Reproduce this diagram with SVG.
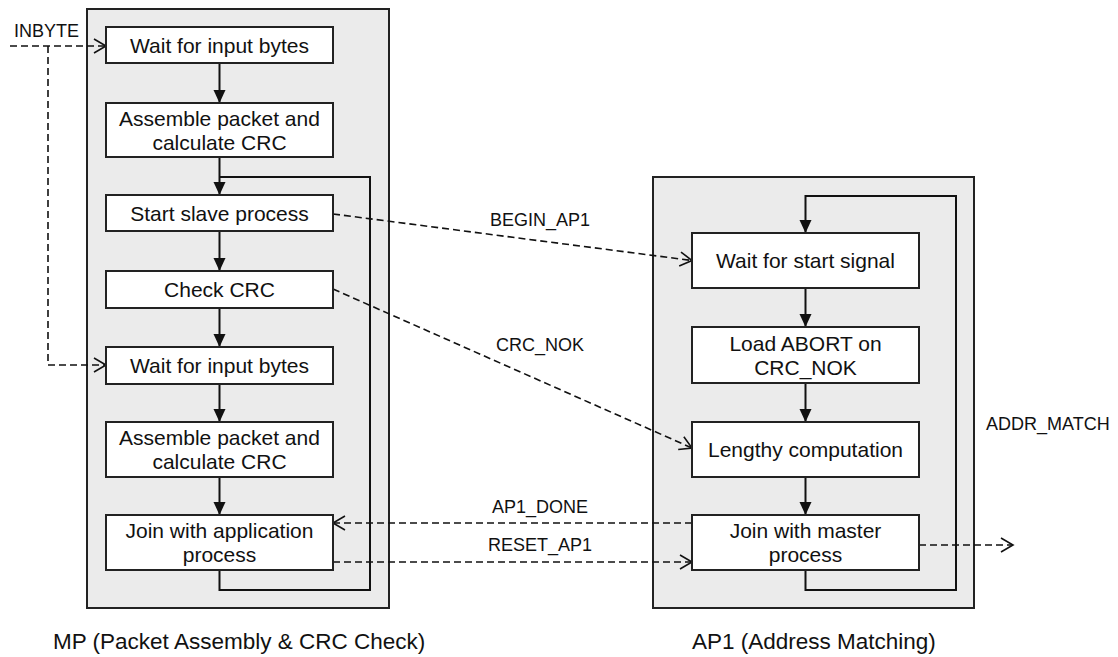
<svg xmlns="http://www.w3.org/2000/svg" width="1118" height="657" viewBox="0 0 1118 657">
  <style>
    .proc { fill: #ebebeb; stroke: #222; stroke-width: 2; }
    .box { fill: #fff; stroke: #222; stroke-width: 2; }
    .flow { fill: none; stroke: #111; stroke-width: 2; }
    .sig { fill: none; stroke: #111; stroke-width: 1.6; stroke-dasharray: 7 4; }
    text { font-family: "Liberation Sans", Arial, sans-serif; fill: #111; }
    .t { font-size: 21px; text-anchor: middle; }
    .lbl { font-size: 18px; }
    .mid { text-anchor: middle; }
    .cap { font-size: 22.5px; }
  </style>
  <defs>
    <marker id="solid" markerUnits="userSpaceOnUse" markerWidth="13" markerHeight="12" refX="13" refY="6" orient="auto" overflow="visible">
      <path d="M0,0 L13,6 L0,12 z" fill="#111"/>
    </marker>
    <marker id="open" markerUnits="userSpaceOnUse" markerWidth="12" markerHeight="14" refX="12" refY="7" orient="auto" overflow="visible">
      <path d="M0,0 L12,7 L0,14" fill="none" stroke="#111" stroke-width="1.6"/>
    </marker>
  </defs>

  <!-- process containers -->
  <g id="mp">
    <rect class="proc" x="87" y="9" width="302" height="599"/>
    <text class="cap" x="53" y="649">MP (Packet Assembly &amp; CRC Check)</text>
  </g>
  <g id="ap1">
    <rect class="proc" x="653" y="177" width="321" height="431"/>
    <text class="cap" x="692" y="649">AP1 (Address Matching)</text>
  </g>

  <!-- control flow and signals -->
  <g id="connectors">
    <!-- MP flow -->
    <line class="flow" x1="219.5" y1="63" x2="219.5" y2="103" marker-end="url(#solid)"/>
    <line class="flow" x1="219.5" y1="157" x2="219.5" y2="195" marker-end="url(#solid)"/>
    <line class="flow" x1="219.5" y1="231" x2="219.5" y2="271" marker-end="url(#solid)"/>
    <line class="flow" x1="219.5" y1="308" x2="219.5" y2="347" marker-end="url(#solid)"/>
    <line class="flow" x1="219.5" y1="384" x2="219.5" y2="422" marker-end="url(#solid)"/>
    <line class="flow" x1="219.5" y1="477" x2="219.5" y2="515" marker-end="url(#solid)"/>
    <polyline class="flow" points="219.5,570 219.5,590 370,590 370,177 219.5,177"/>
    <!-- AP1 flow -->
    <polyline class="flow" points="805.5,570 805.5,590 956,590 956,196 805.5,196 805.5,233" marker-end="url(#solid)"/>
    <line class="flow" x1="805.5" y1="288" x2="805.5" y2="327" marker-end="url(#solid)"/>
    <line class="flow" x1="805.5" y1="383" x2="805.5" y2="422" marker-end="url(#solid)"/>
    <line class="flow" x1="805.5" y1="477" x2="805.5" y2="515" marker-end="url(#solid)"/>

    <!-- INBYTE -->
    <line class="sig" x1="10" y1="46" x2="106" y2="46" marker-end="url(#open)"/>
    <polyline class="sig" points="48,46 48,365 106,365" marker-end="url(#open)"/>
    <text class="lbl" x="14" y="37">INBYTE</text>

    <!-- BEGIN_AP1 -->
    <line class="sig" x1="333" y1="214" x2="692" y2="260.5" marker-end="url(#open)"/>
    <text class="lbl mid" x="540" y="226">BEGIN_AP1</text>

    <!-- CRC_NOK -->
    <line class="sig" x1="333" y1="289" x2="692" y2="448" marker-end="url(#open)"/>
    <text class="lbl mid" x="540" y="351">CRC_NOK</text>

    <!-- AP1_DONE -->
    <line class="sig" x1="692" y1="523" x2="333" y2="523" marker-end="url(#open)"/>
    <text class="lbl mid" x="540" y="513">AP1_DONE</text>

    <!-- RESET_AP1 -->
    <line class="sig" x1="333" y1="562" x2="692" y2="562" marker-end="url(#open)"/>
    <text class="lbl mid" x="540" y="551">RESET_AP1</text>

    <!-- ADDR_MATCH -->
    <line class="sig" x1="919" y1="545" x2="1013" y2="545" marker-end="url(#open)"/>
    <text class="lbl" x="986" y="430">ADDR_MATCH</text>
  </g>

  <!-- MP steps -->
  <g id="mp-wait1">
    <rect class="box" x="106" y="27" width="227" height="36"/>
    <text class="t" x="219.5" y="52.5">Wait for input bytes</text>
  </g>
  <g id="mp-assemble1">
    <rect class="box" x="106" y="103" width="227" height="54"/>
    <text class="t" x="219.5" y="125.5">Assemble packet and</text>
    <text class="t" x="219.5" y="149.5">calculate CRC</text>
  </g>
  <g id="mp-start">
    <rect class="box" x="106" y="195" width="227" height="36"/>
    <text class="t" x="219.5" y="220.5">Start slave process</text>
  </g>
  <g id="mp-check">
    <rect class="box" x="106" y="271" width="227" height="37"/>
    <text class="t" x="219.5" y="297">Check CRC</text>
  </g>
  <g id="mp-wait2">
    <rect class="box" x="106" y="347" width="227" height="37"/>
    <text class="t" x="219.5" y="373">Wait for input bytes</text>
  </g>
  <g id="mp-assemble2">
    <rect class="box" x="106" y="422" width="227" height="55"/>
    <text class="t" x="219.5" y="445">Assemble packet and</text>
    <text class="t" x="219.5" y="469">calculate CRC</text>
  </g>
  <g id="mp-join">
    <rect class="box" x="106" y="515" width="227" height="55"/>
    <text class="t" x="219.5" y="538">Join with application</text>
    <text class="t" x="219.5" y="562">process</text>
  </g>

  <!-- AP1 steps -->
  <g id="ap1-wait">
    <rect class="box" x="692" y="233" width="227" height="55"/>
    <text class="t" x="805.5" y="268">Wait for start signal</text>
  </g>
  <g id="ap1-load">
    <rect class="box" x="692" y="327" width="227" height="56"/>
    <text class="t" x="805.5" y="350.5">Load ABORT on</text>
    <text class="t" x="805.5" y="374.5">CRC_NOK</text>
  </g>
  <g id="ap1-compute">
    <rect class="box" x="692" y="422" width="227" height="55"/>
    <text class="t" x="805.5" y="457">Lengthy computation</text>
  </g>
  <g id="ap1-join">
    <rect class="box" x="692" y="515" width="227" height="55"/>
    <text class="t" x="805.5" y="538">Join with master</text>
    <text class="t" x="805.5" y="562">process</text>
  </g>
</svg>
